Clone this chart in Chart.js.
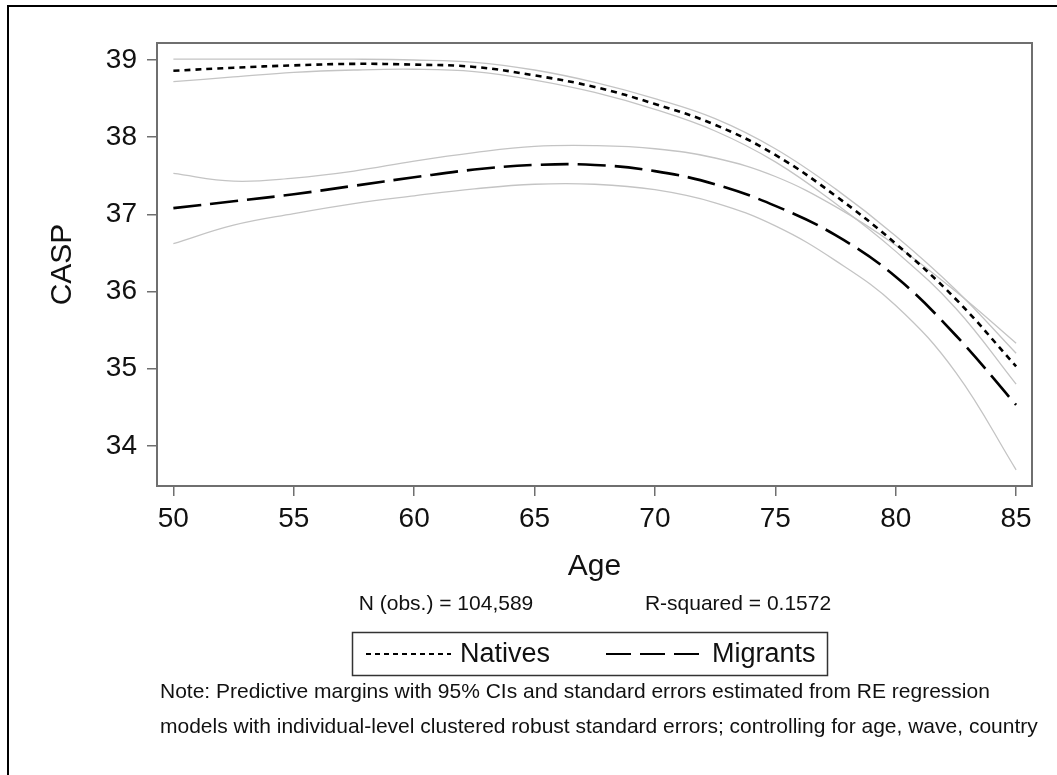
<!DOCTYPE html>
<html lang="en">
<head>
<meta charset="UTF-8">
<title>CASP by age - Natives and Migrants</title>
<script src="https://cdn.jsdelivr.net/npm/chart.js"></script>
<style>
  html, body { margin: 0; padding: 0; background: #fff; }
  #wrap { width: 1057px; height: 775px; position: relative; }
</style>
</head>
<body>
<div id="wrap"><canvas id="caspChart"></canvas></div>

<script>
// predictive margins by age (with 95% CI bounds)
const ages = [50, 52.5, 55, 57.5, 60, 62.5, 65, 67.5, 70, 72.5, 75, 77.5, 80, 82.5, 85];

const nativesMean  = [38.86, 38.90, 38.93, 38.95, 38.94, 38.91, 38.80, 38.65, 38.43, 38.16, 37.77, 37.24, 36.62, 35.90, 35.03];
const nativesUpper = [39.01, 39.01, 39.01, 39.01, 39.00, 38.97, 38.87, 38.71, 38.50, 38.24, 37.85, 37.33, 36.72, 36.02, 35.20];
const nativesLower = [38.72, 38.78, 38.84, 38.87, 38.88, 38.85, 38.74, 38.58, 38.36, 38.08, 37.68, 37.14, 36.52, 35.78, 34.80];

const migrantsMean  = [37.08, 37.17, 37.26, 37.37, 37.48, 37.58, 37.64, 37.64, 37.56, 37.39, 37.11, 36.73, 36.19, 35.43, 34.53];
const migrantsUpper = [37.53, 37.43, 37.47, 37.56, 37.69, 37.80, 37.88, 37.89, 37.85, 37.73, 37.49, 37.10, 36.60, 36.00, 35.33];
const migrantsLower = [36.62, 36.86, 37.01, 37.14, 37.24, 37.33, 37.39, 37.39, 37.32, 37.15, 36.85, 36.40, 35.82, 34.95, 33.69];

const xTicks = [50, 55, 60, 65, 70, 75, 80, 85];
const yTicks = [34, 35, 36, 37, 38, 39];

const statsN  = 'N (obs.) = 104,589';
const statsR2 = 'R-squared = 0.1572';
const noteLines = [
  'Note: Predictive margins with 95% CIs and standard errors estimated from RE regression',
  'models with individual-level clustered robust standard errors; controlling for age, wave, country'
];

const FONT = "'Liberation Sans', Arial, Helvetica, sans-serif";
const AXIS_GRAY = '#6f6f6f';
const CI_GRAY = '#c4c4c4';

const pts = arr => arr.map((v, i) => ({ x: ages[i], y: v }));

function ciLine(label, arr) {
  return {
    label: label,
    data: pts(arr),
    borderColor: CI_GRAY,
    borderWidth: 1.3,
    pointRadius: 0,
    tension: 0.4,
    fill: false,
    order: 2
  };
}

// frame around plot, outer border, stats line, legend box and note
const extras = {
  id: 'extras',
  afterDraw(chart) {
    const ctx = chart.ctx;
    const a = chart.chartArea;
    ctx.save();

    ctx.strokeStyle = AXIS_GRAY;
    ctx.lineWidth = 2;
    ctx.strokeRect(a.left, a.top, a.right - a.left, a.bottom - a.top);

    ctx.strokeStyle = '#000';
    ctx.lineWidth = 2;
    ctx.beginPath();
    ctx.moveTo(8, 775);
    ctx.lineTo(8, 6);
    ctx.lineTo(1057, 6);
    ctx.stroke();

    ctx.fillStyle = '#111';
    ctx.textBaseline = 'middle';
    ctx.textAlign = 'center';
    ctx.font = '21px ' + FONT;
    ctx.fillText(statsN, 446, 604);
    ctx.fillText(statsR2, 738, 604);

    // legend
    ctx.strokeStyle = '#333';
    ctx.lineWidth = 1.5;
    ctx.strokeRect(352.5, 632.5, 475, 43);

    ctx.strokeStyle = '#000';
    ctx.lineWidth = 2;
    ctx.setLineDash([5, 4]);
    ctx.beginPath(); ctx.moveTo(366, 654); ctx.lineTo(451, 654); ctx.stroke();
    ctx.setLineDash([25, 9]);
    ctx.beginPath(); ctx.moveTo(606, 654); ctx.lineTo(700, 654); ctx.stroke();
    ctx.setLineDash([]);

    ctx.textAlign = 'left';
    ctx.font = '27px ' + FONT;
    ctx.fillText('Natives', 460, 655);
    ctx.fillText('Migrants', 712, 655);

    ctx.font = '21px ' + FONT;
    ctx.fillText(noteLines[0], 160, 692);
    ctx.fillText(noteLines[1], 160, 727);

    ctx.restore();
  }
};

const config = {
  type: 'line',
  data: {
    datasets: [
      {
        label: 'Natives',
        data: pts(nativesMean),
        borderColor: '#000',
        borderWidth: 2.6,
        borderDash: [6, 5],
        pointRadius: 0,
        tension: 0.4,
        fill: false,
        order: 0
      },
      {
        label: 'Migrants',
        data: pts(migrantsMean),
        borderColor: '#000',
        borderWidth: 2.6,
        borderDash: [28, 9],
        pointRadius: 0,
        tension: 0.4,
        fill: false,
        order: 0
      },
      ciLine('Natives upper', nativesUpper),
      ciLine('Natives lower', nativesLower),
      ciLine('Migrants upper', migrantsUpper),
      ciLine('Migrants lower', migrantsLower)
    ]
  },
  options: {
    responsive: true,
    maintainAspectRatio: false,
    animation: false,
    events: [],
    layout: { padding: { left: 45, top: 43, right: 25, bottom: 190 } },
    plugins: {
      legend: { display: false },
      tooltip: { enabled: false }
    },
    scales: {
      x: {
        type: 'linear',
        min: 49.32,
        max: 85.66,
        afterFit: s => { s.height = 99; },
        afterBuildTicks: s => { s.ticks = xTicks.map(v => ({ value: v })); },
        grid: { drawOnChartArea: false, drawTicks: true, tickLength: 10, color: AXIS_GRAY, lineWidth: 1.5 },
        border: { color: AXIS_GRAY, width: 2 },
        ticks: { color: '#111', padding: 6, maxRotation: 0, font: { family: FONT, size: 28 } },
        title: { display: true, text: 'Age', color: '#111', padding: 0, font: { family: FONT, size: 30 } }
      },
      y: {
        type: 'linear',
        min: 33.48,
        max: 39.22,
        afterFit: s => { s.width = 112; },
        afterBuildTicks: s => { s.ticks = yTicks.map(v => ({ value: v })); },
        grid: { drawOnChartArea: false, drawTicks: true, tickLength: 10, color: AXIS_GRAY, lineWidth: 1.5 },
        border: { color: AXIS_GRAY, width: 2 },
        ticks: { color: '#111', padding: 10, font: { family: FONT, size: 28 } },
        title: { display: true, text: 'CASP', color: '#111', padding: 0, font: { family: FONT, size: 30 } }
      }
    }
  },
  plugins: [extras]
};

const caspChart = new Chart(document.getElementById('caspChart'), config);
</script>
</body>
</html>
